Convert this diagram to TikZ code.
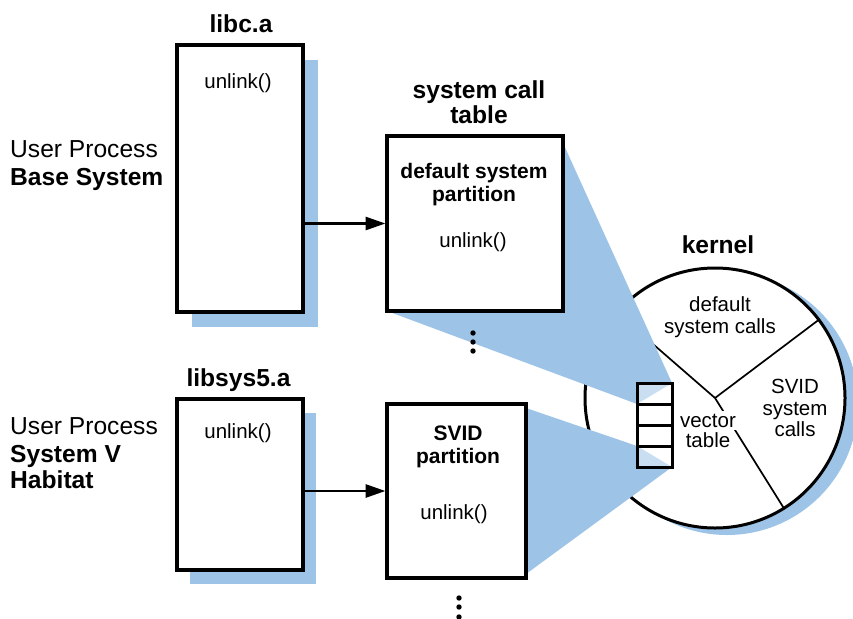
\documentclass[tikz,border=0pt]{standalone}
\usepackage{fontspec}
\setmainfont{Liberation Sans}
\usetikzlibrary{arrows.meta}
\definecolor{sblue}{RGB}{157,196,231}
\pgfdeclarelayer{background}
\pgfsetlayers{background,main}
\begin{document}
\begin{tikzpicture}[x=1pt,y=-1pt,
 pbox/.style={draw=black,line width=3.2pt,fill=white,inner sep=0pt,outer sep=0pt},
 shadowfill/.style={fill=sblue,draw=none,inner sep=0pt,outer sep=0pt},
 lbl/.style={font=\fontsize{24.6}{28}\selectfont\bfseries,anchor=base,inner sep=0pt},
 sidelbl/.style={font=\fontsize{24.6}{28}\selectfont,anchor=base west,inner sep=0pt},
 sidebold/.style={font=\fontsize{24.6}{28}\selectfont\bfseries,anchor=base west,inner sep=0pt},
 inbold/.style={font=\fontsize{21}{24}\selectfont\bfseries,anchor=base,inner sep=0pt},
 txt/.style={font=\fontsize{20.5}{23}\selectfont,anchor=base,inner sep=0pt},
 arr/.style={line width=2.9pt,-{Triangle[length=20pt,width=13pt]},shorten >=1.5pt},
 divline/.style={line width=1.7pt},
 cell/.style={draw=black,line width=3pt,minimum width=35pt,minimum height=21pt,inner sep=0pt,outer sep=0pt},
 dotst/.style={fill=black},
]
\useasboundingbox (0,0) rectangle (853,618);

% boxes
\node[pbox,minimum width=126pt,minimum height=267pt] (libc) at (240,178.5) {};
\node[pbox,minimum width=176pt,minimum height=175pt] (sct) at (475,223.5) {};
\node[pbox,minimum width=126pt,minimum height=171pt] (libsys) at (240,484.5) {};
\node[pbox,minimum width=139pt,minimum height=174pt] (svid) at (456.5,491) {};

% vector table cells
\node[cell] (v1) at (654.5,393.5) {};
\node[cell] (v2) at (654.5,414.5) {};
\node[cell] (v3) at (654.5,435.5) {};
\node[cell] (v4) at (654.5,456.5) {};

% arrows
\draw[arr] (libc.east |- sct.west) -- (sct.west);
\draw[arr] (libsys.east |- svid.west) -- (svid.west);

% titles
\node[lbl] (tlibc) at (241,33) {libc.a};
\node[lbl] (tsct1) at (479,98) {system call};
\node[lbl] (tsct2) at (479,123) {table};
\node[lbl] (tlibsys) at (238.5,386) {libsys5.a};
\node[lbl] (tkernel) at (718,253) {kernel};

% side labels
\node[sidelbl] (up1) at (10,157) {User Process};
\node[sidebold] (bs) at (10,185) {Base System};
\node[sidelbl] (up2) at (10,434) {User Process};
\node[sidebold] (sv) at (10,462) {System V};
\node[sidebold] (hab) at (10,488) {Habitat};

% box texts
\node[txt] (u1) at (238,88) {unlink()};
\node[inbold] (dsp1) at (474,178) {default system};
\node[inbold] (dsp2) at (474,201) {partition};
\node[txt] (u2) at (473,247) {unlink()};
\node[txt] (u3) at (238,438) {unlink()};
\node[inbold] (sp1) at (458,440) {SVID};
\node[inbold] (sp2) at (458,463) {partition};
\node[txt] (u4) at (454,519) {unlink()};

% kernel texts
\node[txt] (dc1) at (720,311) {default};
\node[txt] (dc2) at (720,333) {system calls};
\node[txt] (sc1) at (795,393) {SVID};
\node[txt] (sc2) at (795,415) {system};
\node[txt] (sc3) at (795,436) {calls};
\node[txt,fill=white,inner sep=3pt] (vt1) at (708,427) {vector};
\node[txt,fill=white,inner sep=3pt] (vt2) at (708,447) {table};

% dots
\fill[dotst] (473,333) circle (2.7pt);
\fill[dotst] (473,342) circle (2.7pt);
\fill[dotst] (473,351) circle (2.7pt);
\fill[dotst] (459,598) circle (2.7pt);
\fill[dotst] (459,607) circle (2.7pt);
\fill[dotst] (459,617) circle (2.7pt);

\begin{pgfonlayer}{background}
 \node[shadowfill,minimum width=126pt,minimum height=267pt] (libcsh) at (255,193.5) {};
 \node[shadowfill,minimum width=126pt,minimum height=171pt] (libsyssh) at (253,498.5) {};
 \node[shadowfill,circle,minimum size=262pt] (kernelsh) at (727,404) {};
 \node[circle,draw=black,line width=3pt,fill=white,minimum size=260pt,inner sep=0pt,outer sep=0pt] (kernel) at (715,398) {};
 \draw[divline] (kernel.center) -- (kernel.37.7);
 \draw[divline] (kernel.center) -- (kernel.-58.2);
 \draw[divline] (kernel.center) -- (kernel.139);
 \fill[sblue] ([yshift=-7pt]sct.north east) -- (v1.north east) -- (v1.south west) -- (sct.south west) -- cycle;
 \fill[sblue] ([yshift=-4pt]svid.north east) -- (v4.north west) -- (v4.south east) -- ([yshift=4pt]svid.south east) -- cycle;
 \fill[white,opacity=0.45] (v1.north west) rectangle (v4.south east);
\end{pgfonlayer}
\end{tikzpicture}
\end{document}
